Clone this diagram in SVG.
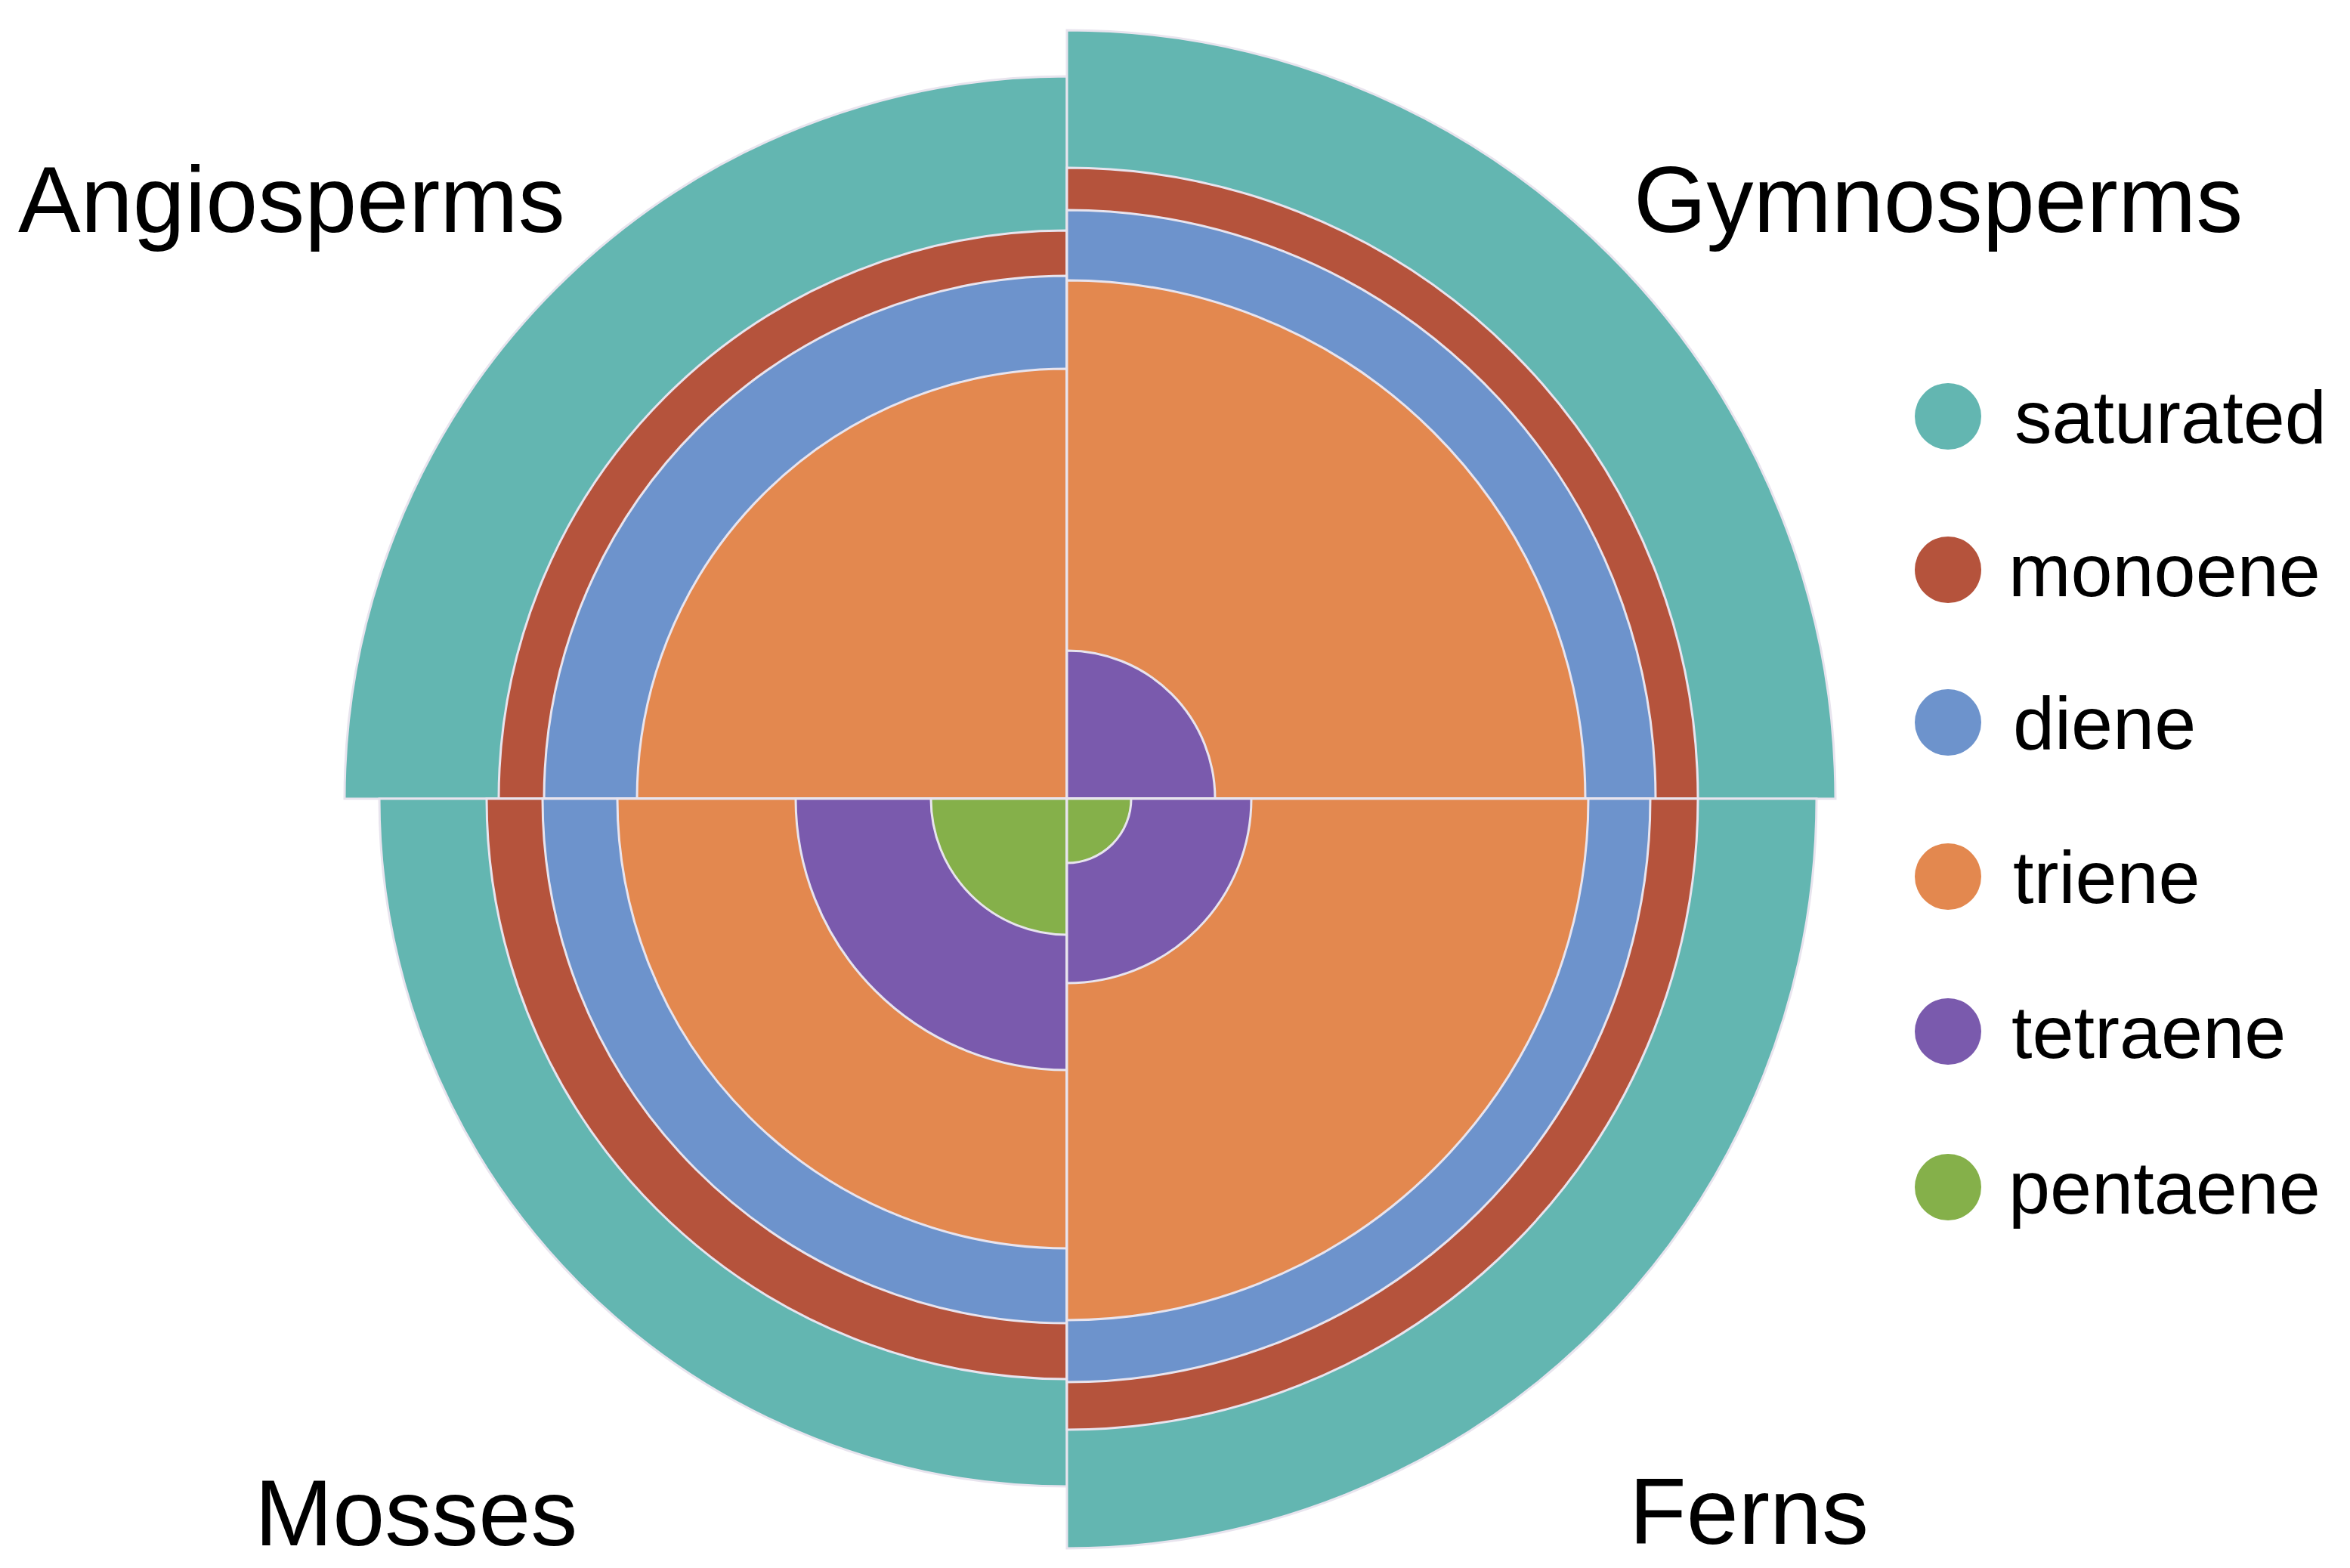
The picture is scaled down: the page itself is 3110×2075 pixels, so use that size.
<svg xmlns="http://www.w3.org/2000/svg" width="3110" height="2075" viewBox="0 0 3110 2075">
<style>
path{stroke:#e8e4ee;stroke-width:3}
.s{fill:#63b6b1}.m{fill:#b5533c}.d{fill:#6d93cc}.t{fill:#e3884f}.te{fill:#7a5aad}.p{fill:#85b04a}
text{font-family:"Liberation Sans",Arial,sans-serif;fill:#000}
.lab{font-size:124px}.leg{font-size:99px}
</style>
<rect width="3110" height="2075" fill="#fff"/>
<g id="angiosperms">
<path class="s" d="M1412 1057 L456 1057 A956 956 0 0 1 1412 101 Z"/>
<path class="m" d="M1412 1057 L660 1057 A752 752 0 0 1 1412 305 Z"/>
<path class="d" d="M1412 1057 L720 1057 A692 692 0 0 1 1412 365 Z"/>
<path class="t" d="M1412 1057 L843 1057 A569 569 0 0 1 1412 488 Z"/>
</g>
<g id="gymnosperms">
<path class="s" d="M1412 1057 L1412 40 A1017 1017 0 0 1 2429 1057 Z"/>
<path class="m" d="M1412 1057 L1412 222 A835 835 0 0 1 2247 1057 Z"/>
<path class="d" d="M1412 1057 L1412 278 A779 779 0 0 1 2191 1057 Z"/>
<path class="t" d="M1412 1057 L1412 371 A686 686 0 0 1 2098 1057 Z"/>
<path class="te" d="M1412 1057 L1412 861 A196 196 0 0 1 1608 1057 Z"/>
</g>
<g id="mosses">
<path class="s" d="M1412 1057 L1412 1967 A910 910 0 0 1 502 1057 Z"/>
<path class="m" d="M1412 1057 L1412 1825 A768 768 0 0 1 644 1057 Z"/>
<path class="d" d="M1412 1057 L1412 1751 A694 694 0 0 1 718 1057 Z"/>
<path class="t" d="M1412 1057 L1412 1652 A595 595 0 0 1 817 1057 Z"/>
<path class="te" d="M1412 1057 L1412 1416 A359 359 0 0 1 1053 1057 Z"/>
<path class="p" d="M1412 1057 L1412 1237 A180 180 0 0 1 1232 1057 Z"/>
</g>
<g id="ferns">
<path class="s" d="M1412 1057 L2404 1057 A992 992 0 0 1 1412 2049 Z"/>
<path class="m" d="M1412 1057 L2247 1057 A835 835 0 0 1 1412 1892 Z"/>
<path class="d" d="M1412 1057 L2184 1057 A772 772 0 0 1 1412 1829 Z"/>
<path class="t" d="M1412 1057 L2102 1057 A690 690 0 0 1 1412 1747 Z"/>
<path class="te" d="M1412 1057 L1656 1057 A244 244 0 0 1 1412 1301 Z"/>
<path class="p" d="M1412 1057 L1497 1057 A85 85 0 0 1 1412 1142 Z"/>
</g>
<g id="labels">
<text class="lab" x="24" y="307">Angiosperms</text>
<text class="lab" x="2162" y="307">Gymnosperms</text>
<text class="lab" x="337" y="2045">Mosses</text>
<text class="lab" x="2156" y="2043">Ferns</text>
</g>
<g id="legend">
<circle class="s" cx="2578" cy="551" r="44"/><text class="leg" x="2666" y="586">saturated</text>
<circle class="m" cx="2578" cy="754" r="44"/><text class="leg" x="2658" y="789">monoene</text>
<circle class="d" cx="2578" cy="956" r="44"/><text class="leg" x="2664" y="991">diene</text>
<circle class="t" cx="2578" cy="1160" r="44"/><text class="leg" x="2664" y="1195">triene</text>
<circle class="te" cx="2578" cy="1365" r="44"/><text class="leg" x="2662" y="1400">tetraene</text>
<circle class="p" cx="2578" cy="1571" r="44"/><text class="leg" x="2658" y="1606">pentaene</text>
</g>
</svg>
